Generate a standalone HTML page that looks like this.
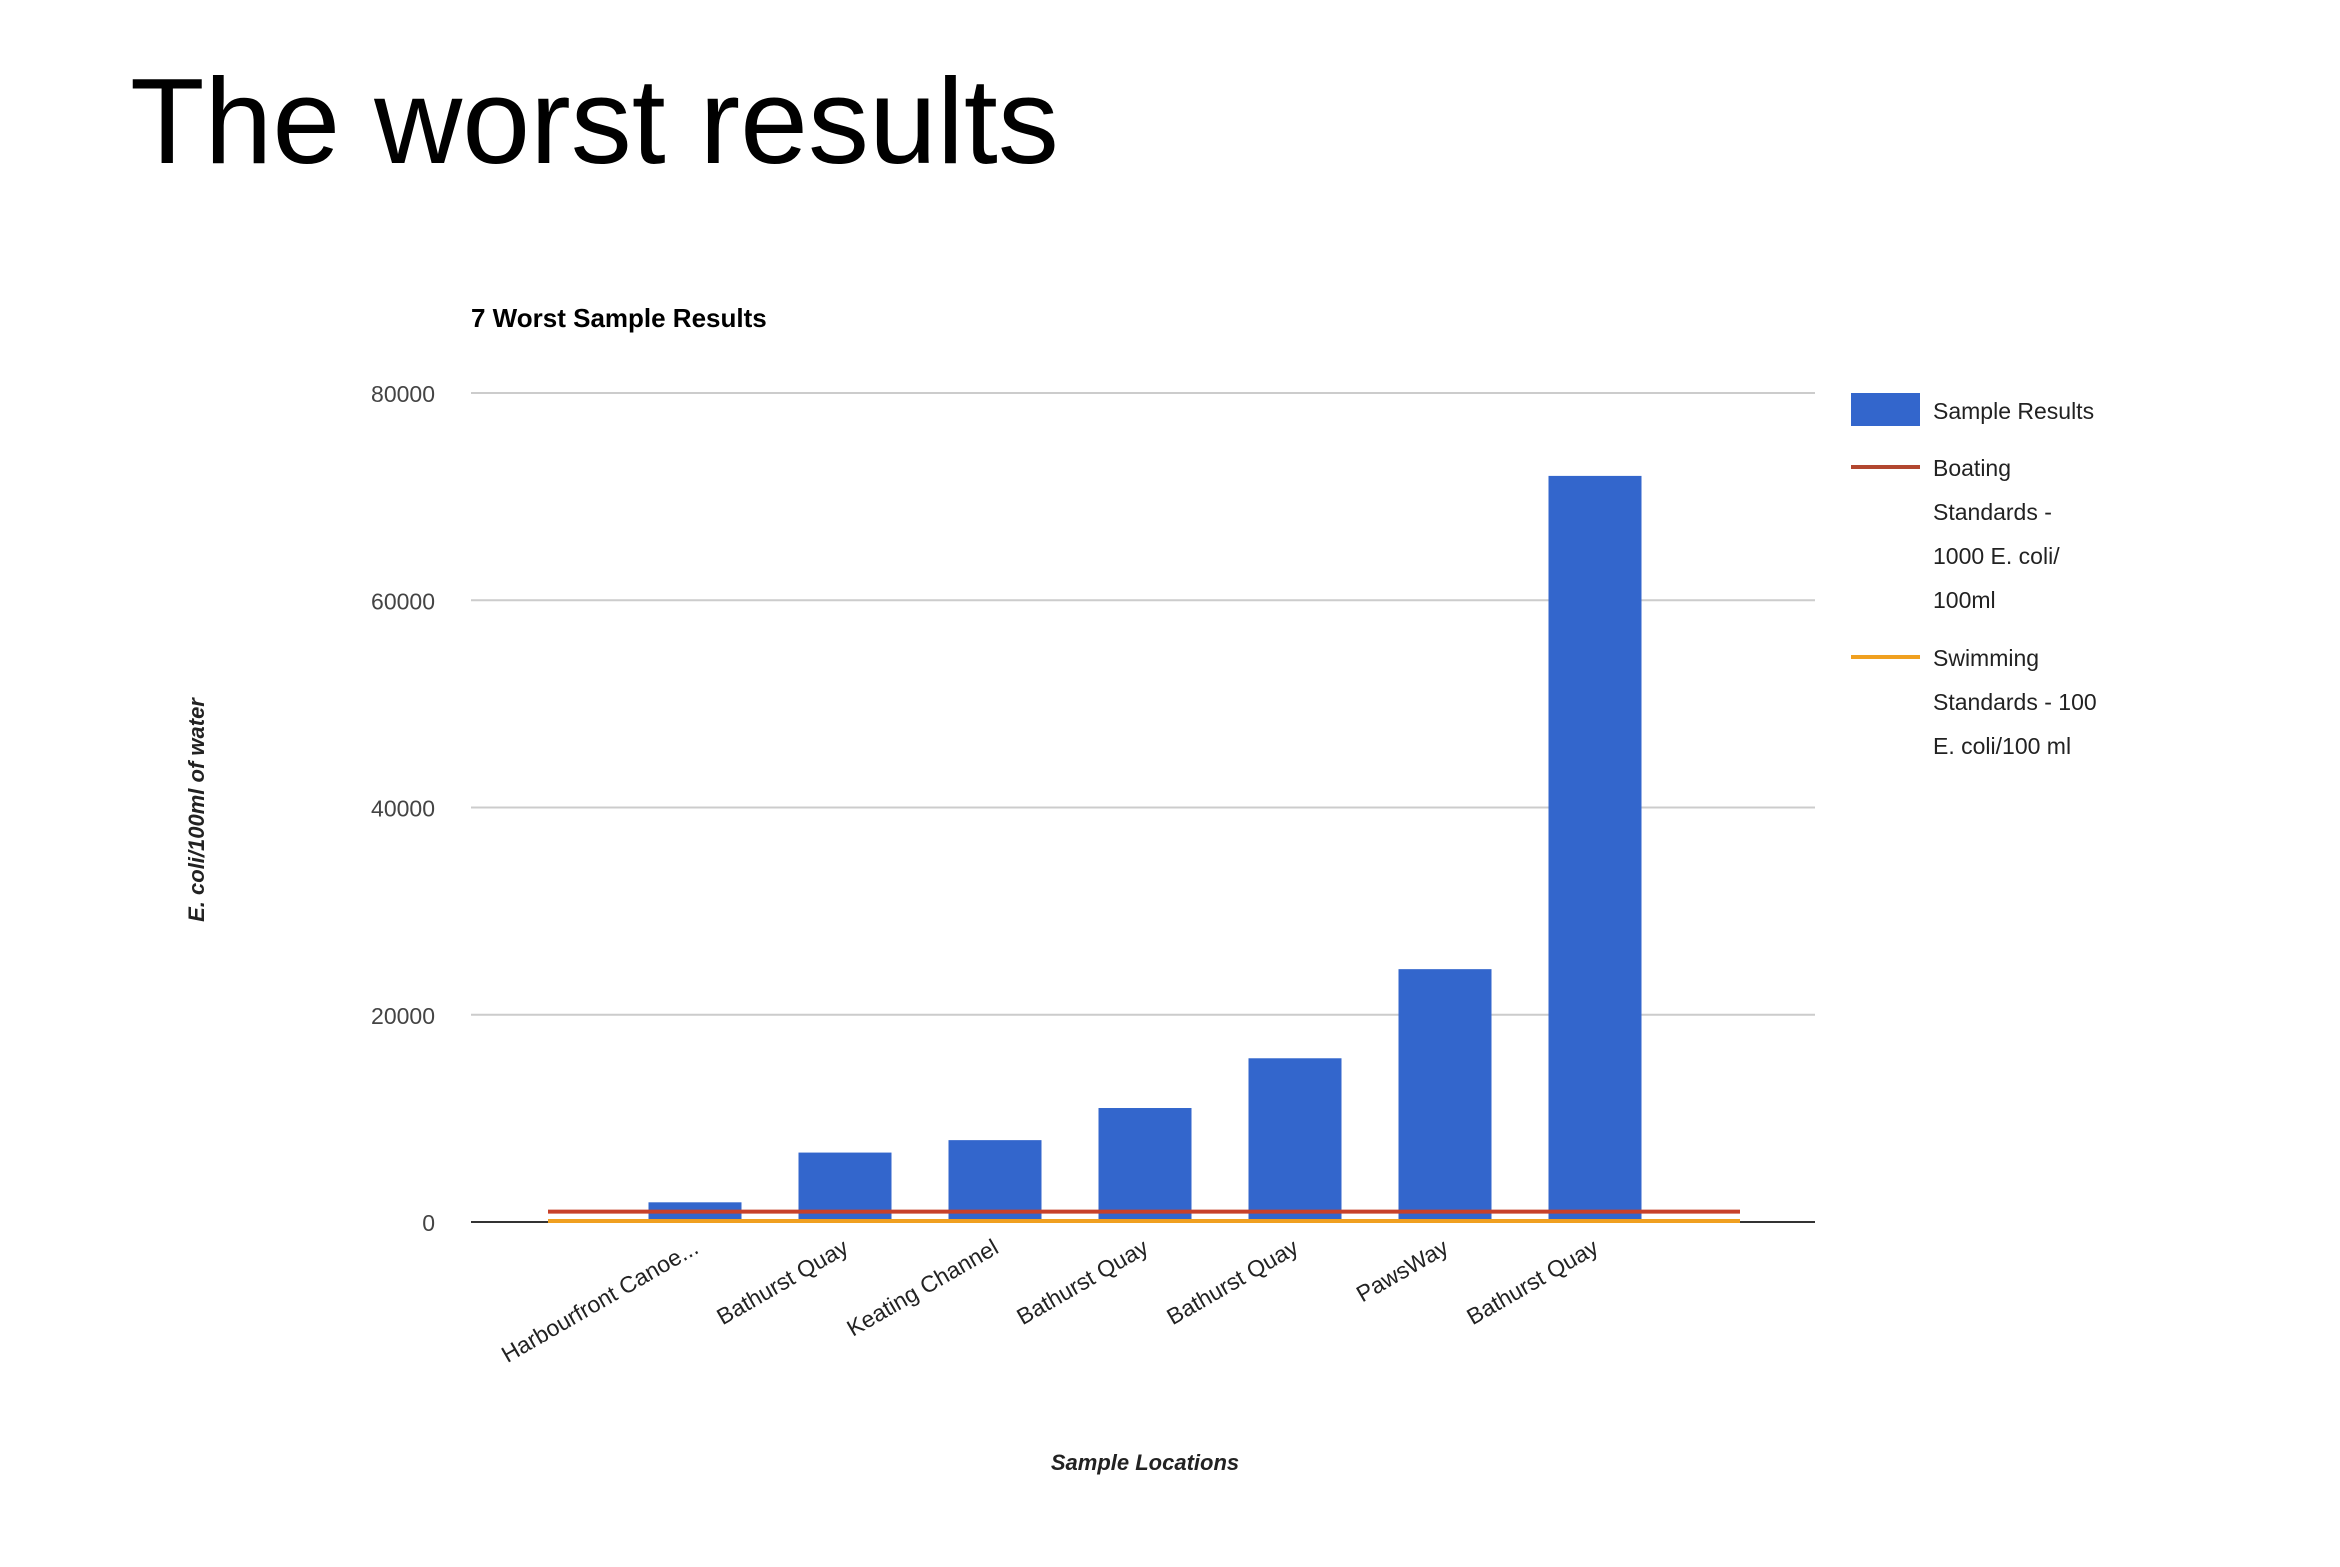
<!DOCTYPE html>
<html><head><meta charset="utf-8"><style>
html,body{margin:0;padding:0;background:#fff;}
svg{display:block;font-family:"Liberation Sans",Arial,sans-serif;}
</style></head><body>
<svg id="chart" width="2340" height="1567" viewBox="0 0 2340 1567">
<text x="130" y="163" font-size="122" fill="#000">The worst results</text>
<text x="471" y="327" font-size="26" font-weight="bold" fill="#000">7 Worst Sample Results</text>
<g id="grid"></g>
<g id="bars"></g>
<g id="lines"></g>
<g id="xlabels"></g>
<text transform="translate(204,810) rotate(-90)" text-anchor="middle" font-size="22" font-weight="bold" font-style="italic" fill="#222">E. coli/100ml of water</text>
<text x="1145" y="1470" text-anchor="middle" font-size="22" font-weight="bold" font-style="italic" fill="#222">Sample Locations</text>
<g font-size="23" fill="#222">
<rect x="1851" y="393" width="69" height="33" fill="#3366cc"/>
<text x="1933" y="419">Sample Results</text>
<rect x="1851" y="465" width="69" height="4" fill="#b2472f"/>
<text x="1933" y="476"><tspan x="1933">Boating</tspan><tspan x="1933" dy="44">Standards -</tspan><tspan x="1933" dy="44">1000 E. coli/</tspan><tspan x="1933" dy="44">100ml</tspan></text>
<rect x="1851" y="655" width="69" height="4" fill="#f0a020"/>
<text x="1933" y="666"><tspan x="1933">Swimming</tspan><tspan x="1933" dy="44">Standards - 100</tspan><tspan x="1933" dy="44">E. coli/100 ml</tspan></text>
</g>
</svg>
<script>
const categories=["Harbourfront Canoe...","Bathurst Quay","Keating Channel","Bathurst Quay","Bathurst Quay","PawsWay","Bathurst Quay"];
const sampleValues=[1900,6700,7900,11000,15800,24400,72000];
const boatingValue=1000;
const swimmingValue=100;
const yTicks=[0,20000,40000,60000,80000];
const NS="http://www.w3.org/2000/svg";
const X0=471,X1=1815,Y0=1222,Y1=393,YMAX=80000;
const step=150,firstCenter=695,barW=93;
function y(v){return Y0-(v/YMAX)*(Y0-Y1);}
function xc(i){return firstCenter+i*step;}
function mk(tag,attrs,parent){const e=document.createElementNS(NS,tag);for(const k in attrs)e.setAttribute(k,attrs[k]);parent.appendChild(e);return e;}
const grid=document.getElementById('grid');
yTicks.forEach(t=>{
  if(t>0){const l=mk('line',{x1:X0,x2:X1,y1:y(t),y2:y(t),stroke:'#cccccc','stroke-width':2},grid);
  
  }
  const tx=mk('text',{x:435,y:y(t)+9,'text-anchor':'end','font-size':23,fill:'#444'},grid);
  tx.textContent=t;
  
  
});
const bars=document.getElementById('bars');
sampleValues.forEach((v,i)=>{
  const r=mk('rect',{x:xc(i)-barW/2,y:y(v),width:barW,height:Y0-y(v),fill:'#3366cc'},bars);
  
  
});
const axis=mk('line',{x1:X0,x2:X1,y1:Y0,y2:Y0,stroke:'#333','stroke-width':2},bars);


const lines=document.getElementById('lines');
const lx0=xc(0)-step/2-73,lx1=xc(categories.length-1)+step/2-73+73;
const sw=mk('line',{x1:548,x2:1740,y1:y(swimmingValue),y2:y(swimmingValue),stroke:'#f0a020','stroke-width':4},lines);


const bt=mk('line',{x1:548,x2:1740,y1:y(boatingValue),y2:y(boatingValue),stroke:'#c8402a','stroke-width':4},lines);


const xl=document.getElementById('xlabels');
categories.forEach((c,i)=>{
  const t=mk('text',{transform:`translate(${xc(i)+5},${Y0+30}) rotate(-30)`,'text-anchor':'end','font-size':23,fill:'#222'},xl);
  t.textContent=c;
  
  
});
</script>
</body></html>
